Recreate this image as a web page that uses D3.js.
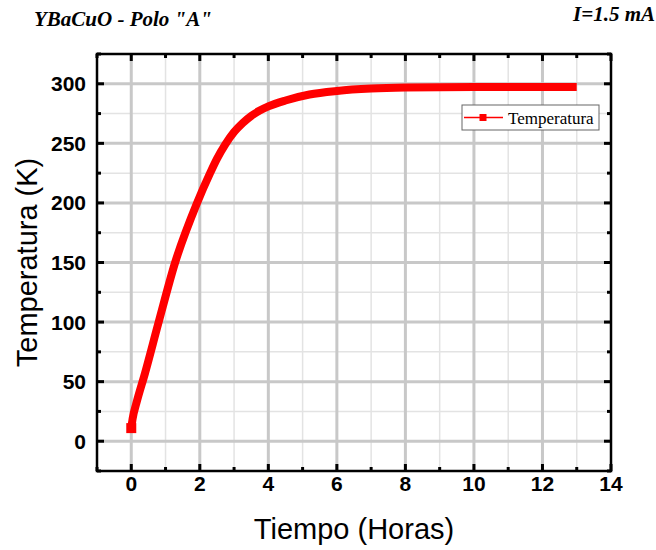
<!DOCTYPE html>
<html>
<head>
<meta charset="utf-8">
<script src="https://cdn.jsdelivr.net/npm/d3@7"></script>
<style>
  body { margin: 0; background: #fff; }
  .tick-label { font-family: "Liberation Sans", Arial, sans-serif; font-weight: bold; font-size: 21px; fill: #000; }
  .axis-title { font-family: "Liberation Sans", Arial, sans-serif; font-size: 29px; fill: #000; }
  .head { font-family: "Liberation Serif", "Times New Roman", serif; font-weight: bold; font-style: italic; font-size: 21px; fill: #000; }
</style>
</head>
<body>
<svg id="chart" width="656" height="550"></svg>
<script>
// horas
const tiempo = [0, 0.04, 0.15, 0.4, 0.8, 1.28, 1.92, 2.3, 2.5, 2.74, 3.0, 3.25, 3.5, 3.75, 4.0, 4.5, 5.2, 6.0, 7.0, 8.0, 10.0, 13.0];
// K
const temperatura = [11, 19, 32, 57, 100, 150, 200, 225, 237, 249, 259.5, 267, 273, 277.5, 281, 286, 291, 294, 296, 296.8, 297.2, 297.3];

const xTicks = [0, 2, 4, 6, 8, 10, 12, 14];
const yTicks = [0, 50, 100, 150, 200, 250, 300];
const xMinor = d3.range(-1, 14.01, 1);
const yMinor = d3.range(-25, 325.01, 25);

const svg = d3.select('#chart');
const pLeft = 97, pRight = 611, pTop = 54, pBottom = 471;

const x = d3.scaleLinear().domain([-1, 14]).range([pLeft, pRight]);
const y = d3.scaleLinear().domain([-25, 325]).range([pBottom, pTop]);

// rejilla menor
svg.append('g').selectAll('line')
  .data(xMinor.filter(d => d % 2 !== 0 && d > -1 && d < 14))
  .enter().append('line')
  .attr('x1', d => x(d)).attr('x2', d => x(d))
  .attr('y1', pTop).attr('y2', pBottom)
  .attr('stroke', '#e3e3e3').attr('stroke-width', 1.5);
svg.append('g').selectAll('line')
  .data(yMinor.filter(d => d % 50 !== 0 && d > -25 && d < 325))
  .enter().append('line')
  .attr('x1', pLeft).attr('x2', pRight)
  .attr('y1', d => y(d)).attr('y2', d => y(d))
  .attr('stroke', '#e3e3e3').attr('stroke-width', 1.5);

// rejilla mayor
svg.append('g').selectAll('line')
  .data(xTicks.filter(d => d < 14))
  .enter().append('line')
  .attr('x1', d => x(d)).attr('x2', d => x(d))
  .attr('y1', pTop).attr('y2', pBottom)
  .attr('stroke', '#c8c8c8').attr('stroke-width', 3);
svg.append('g').selectAll('line')
  .data(yTicks)
  .enter().append('line')
  .attr('x1', pLeft).attr('x2', pRight)
  .attr('y1', d => y(d)).attr('y2', d => y(d))
  .attr('stroke', '#c8c8c8').attr('stroke-width', 3);

// curva
const line = d3.line()
  .x((d, i) => x(tiempo[i]))
  .y(d => y(d))
  .curve(d3.curveMonotoneX);

svg.append('path')
  .datum(temperatura)
  .attr('d', line)
  .attr('fill', 'none')
  .attr('stroke', '#ff0000')
  .attr('stroke-width', 8)
  .attr('stroke-linejoin', 'round');

svg.append('rect')
  .attr('x', x(tiempo[0]) - 5)
  .attr('y', y(temperatura[0]) - 5)
  .attr('width', 10).attr('height', 10)
  .attr('fill', '#ff0000');

// ticks (hacia dentro, en los cuatro lados)
const tk = svg.append('g').attr('stroke', '#000');
xMinor.forEach(d => {
  const len = xTicks.includes(d) ? 7 : 4;
  tk.append('line').attr('x1', x(d)).attr('x2', x(d)).attr('y1', pBottom).attr('y2', pBottom - len).attr('stroke-width', 3);
  tk.append('line').attr('x1', x(d)).attr('x2', x(d)).attr('y1', pTop).attr('y2', pTop + len).attr('stroke-width', 3);
});
yMinor.forEach(d => {
  const len = yTicks.includes(d) ? 7 : 4;
  tk.append('line').attr('y1', y(d)).attr('y2', y(d)).attr('x1', pLeft).attr('x2', pLeft + len).attr('stroke-width', 3);
  tk.append('line').attr('y1', y(d)).attr('y2', y(d)).attr('x1', pRight).attr('x2', pRight - len).attr('stroke-width', 3);
});

// marco
svg.append('rect')
  .attr('x', pLeft).attr('y', pTop)
  .attr('width', pRight - pLeft).attr('height', pBottom - pTop)
  .attr('fill', 'none').attr('stroke', '#000').attr('stroke-width', 2.5);

// etiquetas
svg.append('g').selectAll('text')
  .data(xTicks)
  .enter().append('text')
  .attr('class', 'tick-label')
  .attr('x', d => x(d)).attr('y', 491)
  .attr('text-anchor', 'middle')
  .text(d => d);
svg.append('g').selectAll('text')
  .data(yTicks)
  .enter().append('text')
  .attr('class', 'tick-label')
  .attr('x', 86).attr('y', d => y(d))
  .attr('dy', '0.36em')
  .attr('text-anchor', 'end')
  .text(d => d);

svg.append('text')
  .attr('class', 'axis-title')
  .attr('x', (pLeft + pRight) / 2).attr('y', 539)
  .attr('text-anchor', 'middle')
  .text('Tiempo (Horas)');
svg.append('text')
  .attr('class', 'axis-title')
  .attr('transform', `translate(37, ${(pTop + pBottom) / 2}) rotate(-90)`)
  .attr('text-anchor', 'middle')
  .text('Temperatura (K)');

svg.append('text').attr('class', 'head').attr('x', 34).attr('y', 26).text('YBaCuO - Polo "A"');
svg.append('text').attr('class', 'head').attr('x', 655).attr('y', 21).attr('text-anchor', 'end').text('I=1.5 mA');

// leyenda
const lg = svg.append('g');
lg.append('rect')
  .attr('x', 462).attr('y', 105).attr('width', 137).attr('height', 25)
  .attr('fill', '#fff').attr('stroke', '#666').attr('stroke-width', 1);
lg.append('line')
  .attr('x1', 464).attr('x2', 503).attr('y1', 117.5).attr('y2', 117.5)
  .attr('stroke', '#ff0000').attr('stroke-width', 1.5);
lg.append('rect')
  .attr('x', 479.5).attr('y', 114).attr('width', 7).attr('height', 7)
  .attr('fill', '#ff0000');
lg.append('text')
  .attr('x', 508).attr('y', 123.5)
  .style('font-family', '"Liberation Serif", "Times New Roman", serif')
  .style('font-size', '17px')
  .text('Temperatura');
</script>
</body>
</html>
